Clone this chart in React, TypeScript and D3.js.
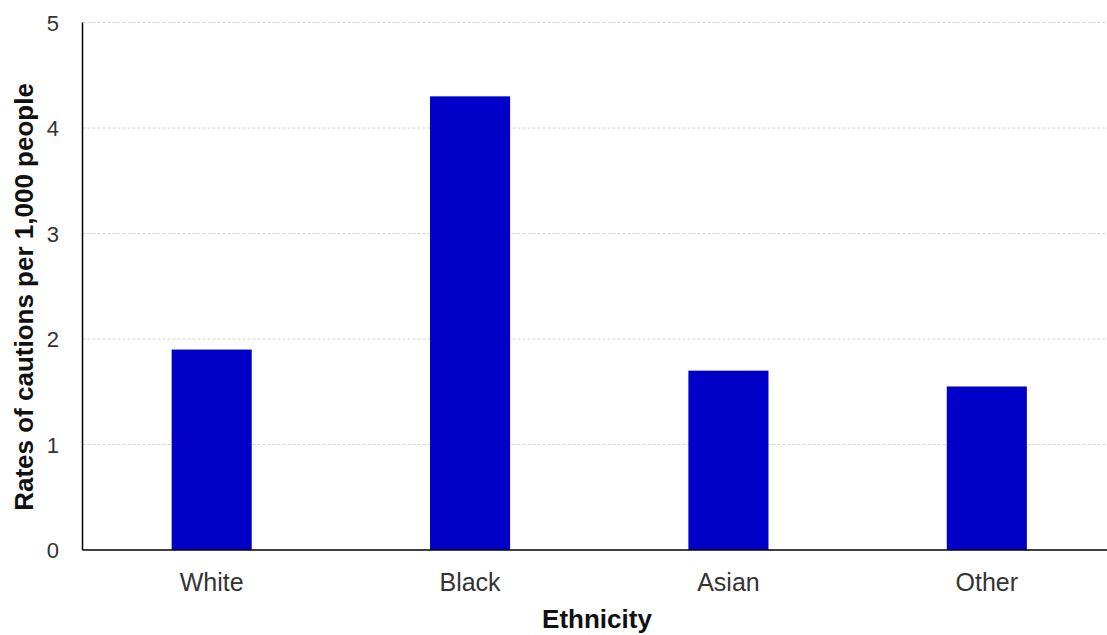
import React from "react";
import * as d3 from "d3";

const categories = ["White", "Black", "Asian", "Other"];
const values = [1.9, 4.3, 1.7, 1.55];
const yTicks = [0, 1, 2, 3, 4, 5];

const W = 1107;
const H = 635;
const left = 82.5;
const right = 1116;
const top = 22.5;
const bottom = 550;

export default function App() {
  const x = d3
    .scaleBand<string>()
    .domain(categories)
    .range([left, right])
    .paddingInner(0.69)
    .paddingOuter(0.345);
  const y = d3.scaleLinear().domain([0, 5]).range([bottom, top]);
  const font = "'Liberation Sans', Arial, sans-serif";
  return (
    <svg
      width={W}
      height={H}
      style={{ position: "absolute", left: 0, top: 0, background: "#fff" }}
      fontFamily={font}
    >
      {yTicks.filter((t) => t > 0).map((t) => (
        <line
          key={"g" + t}
          x1={left}
          x2={W}
          y1={y(t)}
          y2={y(t)}
          stroke="#d4d4d4"
          strokeWidth={1}
          strokeDasharray="3,2"
        />
      ))}
      {categories.map((c, i) => (
        <rect
          key={c}
          x={x(c)}
          y={y(values[i])}
          width={x.bandwidth()}
          height={y(0) - y(values[i])}
          fill="#0000c8"
        />
      ))}
      <line x1={left} x2={left} y1={top} y2={bottom} stroke="#000" strokeWidth={1.5} />
      <line x1={left} x2={W} y1={bottom} y2={bottom} stroke="#000" strokeWidth={1.5} />
      {yTicks.map((t) => (
        <text
          key={"t" + t}
          x={59}
          y={y(t) + 8}
          textAnchor="end"
          fontSize={22}
          fill="#333"
        >
          {t}
        </text>
      ))}
      {categories.map((c) => (
        <text
          key={"l" + c}
          x={(x(c) as number) + x.bandwidth() / 2}
          y={591}
          textAnchor="middle"
          fontSize={25}
          fill="#333"
        >
          {c}
        </text>
      ))}
      <text
        x={597}
        y={628}
        textAnchor="middle"
        fontSize={26}
        fontWeight="bold"
        fill="#111"
      >
        Ethnicity
      </text>
      <text
        transform="translate(33,297) rotate(-90)"
        textAnchor="middle"
        fontSize={26}
        fontWeight="bold"
        fill="#111"
      >
        Rates of cautions per 1,000 people
      </text>
    </svg>
  );
}
